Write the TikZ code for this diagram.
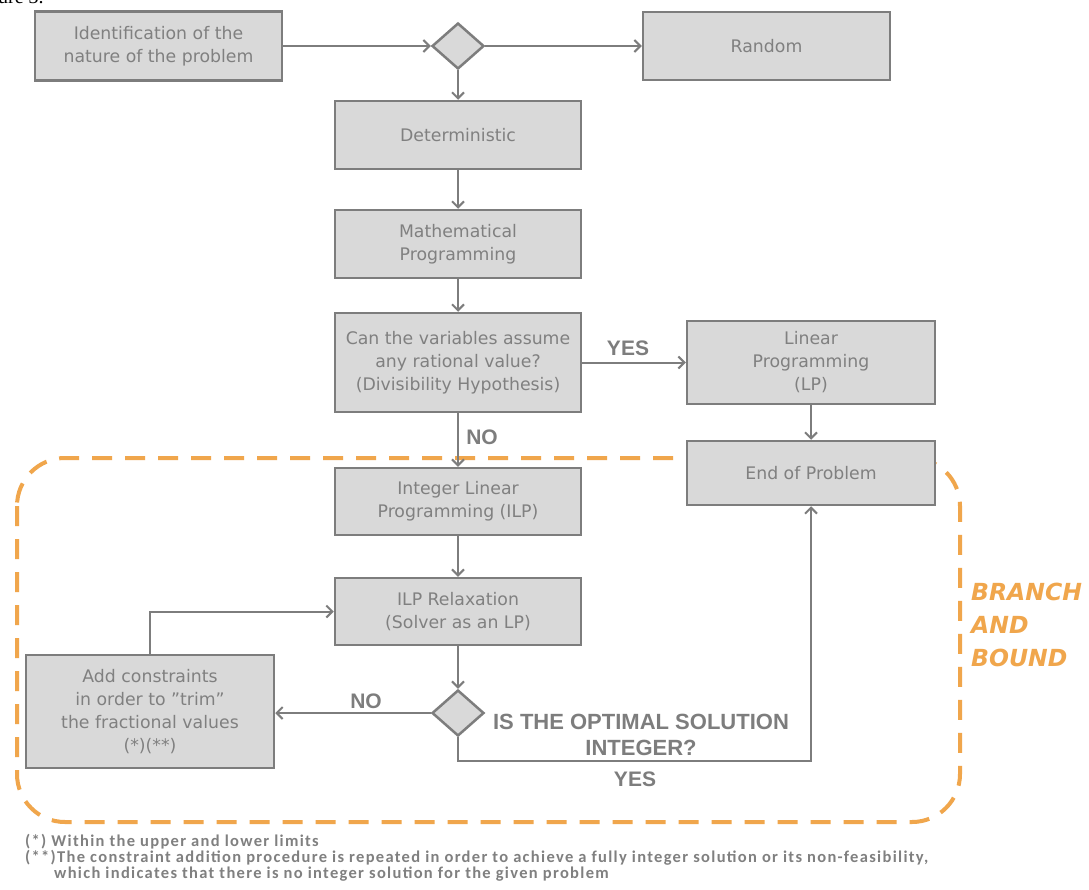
\documentclass[tikz,border=0pt]{standalone}
\usepackage{fontspec}
\setmainfont{DejaVu Sans}
\newfontfamily\labelfont{Liberation Sans}
\newfontfamily\notefont[LetterSpace=8]{Carlito}
\newfontfamily\capfont{Liberation Serif}
\usetikzlibrary{arrows.meta,shapes.geometric}
\definecolor{boxfill}{RGB}{217,217,217}
\definecolor{boxline}{RGB}{125,125,125}
\definecolor{txtgray}{RGB}{128,128,128}
\definecolor{bborange}{RGB}{240,166,76}

\begin{document}
\begin{tikzpicture}[x=1pt,y=1pt,yscale=-1,
  box/.style={draw=boxline, fill=boxfill, line width=2.5pt, minimum width=246pt, inner sep=2pt, align=center, text=txtgray, font=\fontsize{17.3}{23}\selectfont},
  choice/.style={diamond, draw=boxline, fill=boxfill, line width=2.5pt, minimum width=52pt, minimum height=46pt, inner sep=0pt},
  flow/.style={draw=boxline, line width=2pt, -{Straight Barb[length=6pt,width=12pt]}},
  answer/.style={text=boxline, font=\labelfont\bfseries\fontsize{21}{26}\selectfont, inner sep=0pt, align=center},
  footnote/.style={anchor=base west, inner sep=0pt, text=txtgray, font=\notefont\bfseries\fontsize{16.5}{16.5}\selectfont}]
\useasboundingbox (0,0) rectangle (1089,889);
\fill[white] (0,0) rectangle (1089,889);

% caption remnant cut by the page edge
\node[anchor=base west, inner sep=0pt, font=\capfont\fontsize{20}{20}\selectfont] (fig) at (-2,3) {ure 3.};

%Shape: dashed frame
\draw[bborange, line width=4pt, dash pattern=on 20pt off 13pt, rounded corners=48pt] (17,458) rectangle (960,822);

% Boxes
\node[box, minimum width=247pt, minimum height=69pt] (ident) at (158.5,46) {Identification of the\\nature of the problem};
\node[choice] (d1) at (458,46) {};
\node[box, minimum width=247pt, minimum height=68pt] (random) at (766.5,46) {Random};
\node[box, minimum height=68pt] (determ) at (458,135) {Deterministic};
\node[box, minimum height=68pt] (math) at (458,244) {Mathematical\\Programming};
\node[box, minimum height=99pt] (vars) at (458,362.5) {Can the variables assume\\any rational value?\\(Divisibility Hypothesis)};
\node[box, minimum width=248pt, minimum height=83pt] (lp) at (811,362.5) {Linear\\Programming\\(LP)};
\node[box, minimum width=248pt, minimum height=64pt] (endp) at (811,473) {End of Problem};
\node[box, minimum height=67pt] (ilp) at (458,501.5) {Integer Linear\\Programming (ILP)};
\node[box, minimum height=67pt] (relax) at (458,611.5) {ILP Relaxation\\(Solver as an LP)};
\node[choice] (d2) at (458,713) {};
\node[box, minimum width=248pt, minimum height=113pt] (addc) at (150,711.5) {Add constraints\\in order to "trim"\\the fractional values\\(*)(**)};

% Connectors
\draw[flow] (ident) -- (d1);
\draw[flow] (d1) -- (random);
\draw[flow] (d1) -- (determ);
\draw[flow] (determ) -- (math);
\draw[flow] (math) -- (vars);
\draw[flow] (vars) -- (lp);
\draw[flow] (vars) -- (ilp);
\draw[flow] (lp) -- (endp);
\draw[flow] (ilp) -- (relax);
\draw[flow] (relax) -- (d2);
\draw[flow] (d2) -- (d2 -| addc.east);
\draw[flow] (addc.north) |- (relax);
\draw[flow] (d2.south) -- ++(0,24) -| (endp);

% Text Node
\node[answer] (yes1) at (628,348) {YES};
\node[answer] (no1) at (482,437) {NO};
\node[answer] (no2) at (366,701) {NO};
\node[answer, font=\labelfont\bfseries\fontsize{22}{26}\selectfont] (question) at (641,735) {IS THE OPTIMAL SOLUTION\\INTEGER?};
\node[answer] (yes2) at (635,779) {YES};
\node[anchor=north west, inner sep=0pt, align=left, text=bborange, font=\bfseries\itshape\fontsize{23.5}{33}\selectfont] (bb) at (971,583) {BRANCH\\AND\\BOUND};

% Footnotes
\node[footnote] (note1) at (25,846) {(*) Within the upper and lower limits};
\node[footnote] (note2) at (25,862) {(**)The constraint addition procedure is repeated in order to achieve a fully integer solution or its non-feasibility,};
\node[footnote] (note3) at (54,878) {which indicates that there is no integer solution for the given problem};
\end{tikzpicture}
\end{document}
